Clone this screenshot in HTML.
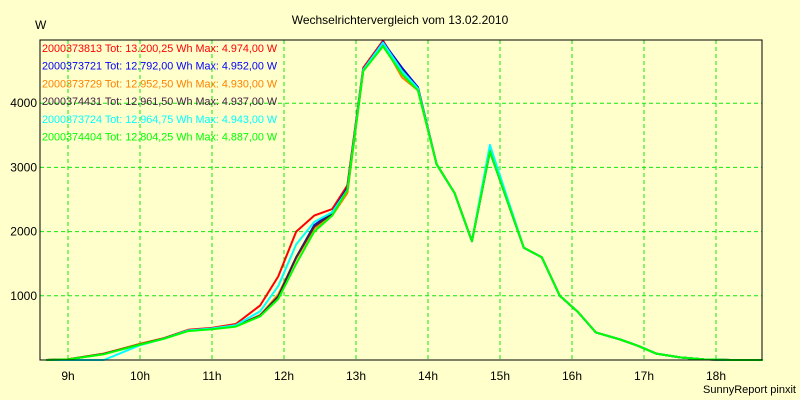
<!DOCTYPE html>
<html><head><meta charset="utf-8"><style>
body{margin:0;background:#ffffcc;}
svg{display:block;font-family:"Liberation Sans",sans-serif;}
</style></head><body>
<svg id="chart" width="800" height="400">
<rect x="0" y="0" width="800" height="400" fill="#ffffcc"/>
<text x="400" y="24" text-anchor="middle" font-size="12" fill="#000">Wechselrichtervergleich vom 13.02.2010</text>
<text x="35" y="29" font-size="12" fill="#000">W</text>
<text x="796" y="393" text-anchor="end" font-size="11" fill="#000">SunnyReport pinxit</text>
<g id="grid"></g><g id="axes"></g><g id="lines"></g><g id="legend"></g>
<rect x="40" y="40" width="722" height="320" fill="none" stroke="#000" stroke-width="1"/>
</svg>
<script>
const times=[8.7,9.0,9.5,10.0,10.33,10.67,11.0,11.33,11.67,11.92,12.17,12.42,12.67,12.88,13.1,13.375,13.64,13.86,14.12,14.37,14.61,14.86,15.33,15.58,15.83,16.08,16.33,16.67,16.92,17.17,17.5,17.83,18.2,18.65];
const green=[0,10,90,240,330,450,480,520,680,950,1500,2000,2250,2650,4500,4887,4450,4200,3050,2600,1850,3250,1750,1600,1000,750,430,320,220,100,40,10,0,0];
const red=[0,10,100,250,340,470,500,560,850,1300,2000,2250,2350,2720,4550,4974,4500,4250,3050,2600,1850,3300,1750,1600,1000,750,430,320,220,100,40,10,0,0];
const blue=[0,10,95,245,335,460,490,530,700,1000,1600,2100,2300,2680,4520,4952,4550,4250,3050,2600,1850,3250,1750,1600,1000,750,430,320,220,100,40,10,0,0];
const orange=[0,12,100,250,340,460,490,530,700,1020,1580,2050,2250,2600,4500,4930,4400,4200,3050,2600,1850,3280,1750,1600,1000,750,430,320,220,100,40,10,0,0];
const dark=[0,10,95,245,335,460,490,530,690,990,1600,2080,2280,2660,4510,4937,4520,4230,3050,2600,1850,3250,1750,1600,1000,750,430,320,220,100,40,10,0,0];
const cyan=[0,0,0,230,330,460,490,540,760,1150,1800,2150,2300,2650,4520,4943,4500,4230,3050,2600,1850,3350,1750,1600,1000,750,430,320,220,100,40,10,0,0];
const seriesNames=["2000373813 Tot: 13.200,25 Wh Max: 4.974,00 W","2000373721 Tot: 12.792,00 Wh Max: 4.952,00 W","2000373729 Tot: 12.952,50 Wh Max: 4.930,00 W","2000374431 Tot: 12.961,50 Wh Max: 4.937,00 W","2000373724 Tot: 12.964,75 Wh Max: 4.943,00 W","2000374404 Tot: 12.804,25 Wh Max: 4.887,00 W"];
const yTicks=[1000,2000,3000,4000];
const xTicks=[9,10,11,12,13,14,15,16,17,18];
const colors=["#ff0000","#0000ff","#ff8000","#402040","#00ffff","#00ff00"];
const series=[red,blue,orange,dark,cyan,green];
const NS="http://www.w3.org/2000/svg";
function xs(t){return 284+(t-12)*72;}
function ys(v){return 360-v*0.0642;}
function mk(tag,attrs,parent){const e=document.createElementNS(NS,tag);for(const k in attrs)e.setAttribute(k,attrs[k]);document.getElementById(parent).appendChild(e);return e;}
yTicks.forEach(v=>{
  const l=mk("line",{x1:40,x2:762,y1:ys(v),y2:ys(v),stroke:"#10e810","stroke-dasharray":"4,3"},"grid");
  
  
  const t=mk("text",{x:37,y:ys(v)+4,"text-anchor":"end","font-size":"12"},"axes");
  t.textContent=v;
  
  
});
xTicks.forEach(h=>{
  const l=mk("line",{x1:xs(h),x2:xs(h),y1:40,y2:360,stroke:"#10e810","stroke-dasharray":"4,3"},"grid");
  
  
  const t=mk("text",{x:xs(h),y:380,"text-anchor":"middle","font-size":"12"},"axes");
  t.textContent=h+"h";
  
  
});
series.forEach((s,i)=>{
  const pts=s.map((v,j)=>xs(times[j]).toFixed(1)+","+ys(v).toFixed(1)).join(" ");
  const p=mk("polyline",{points:pts,fill:"none",stroke:colors[i],"stroke-width":2,"stroke-linejoin":"round"},"lines");
  
  
});
seriesNames.forEach((n,i)=>{
  const t=mk("text",{x:42,y:52+i*17.7,"font-size":"10.8",fill:colors[i]},"legend");
  t.textContent=n;
  
  
});
</script>
</body></html>
